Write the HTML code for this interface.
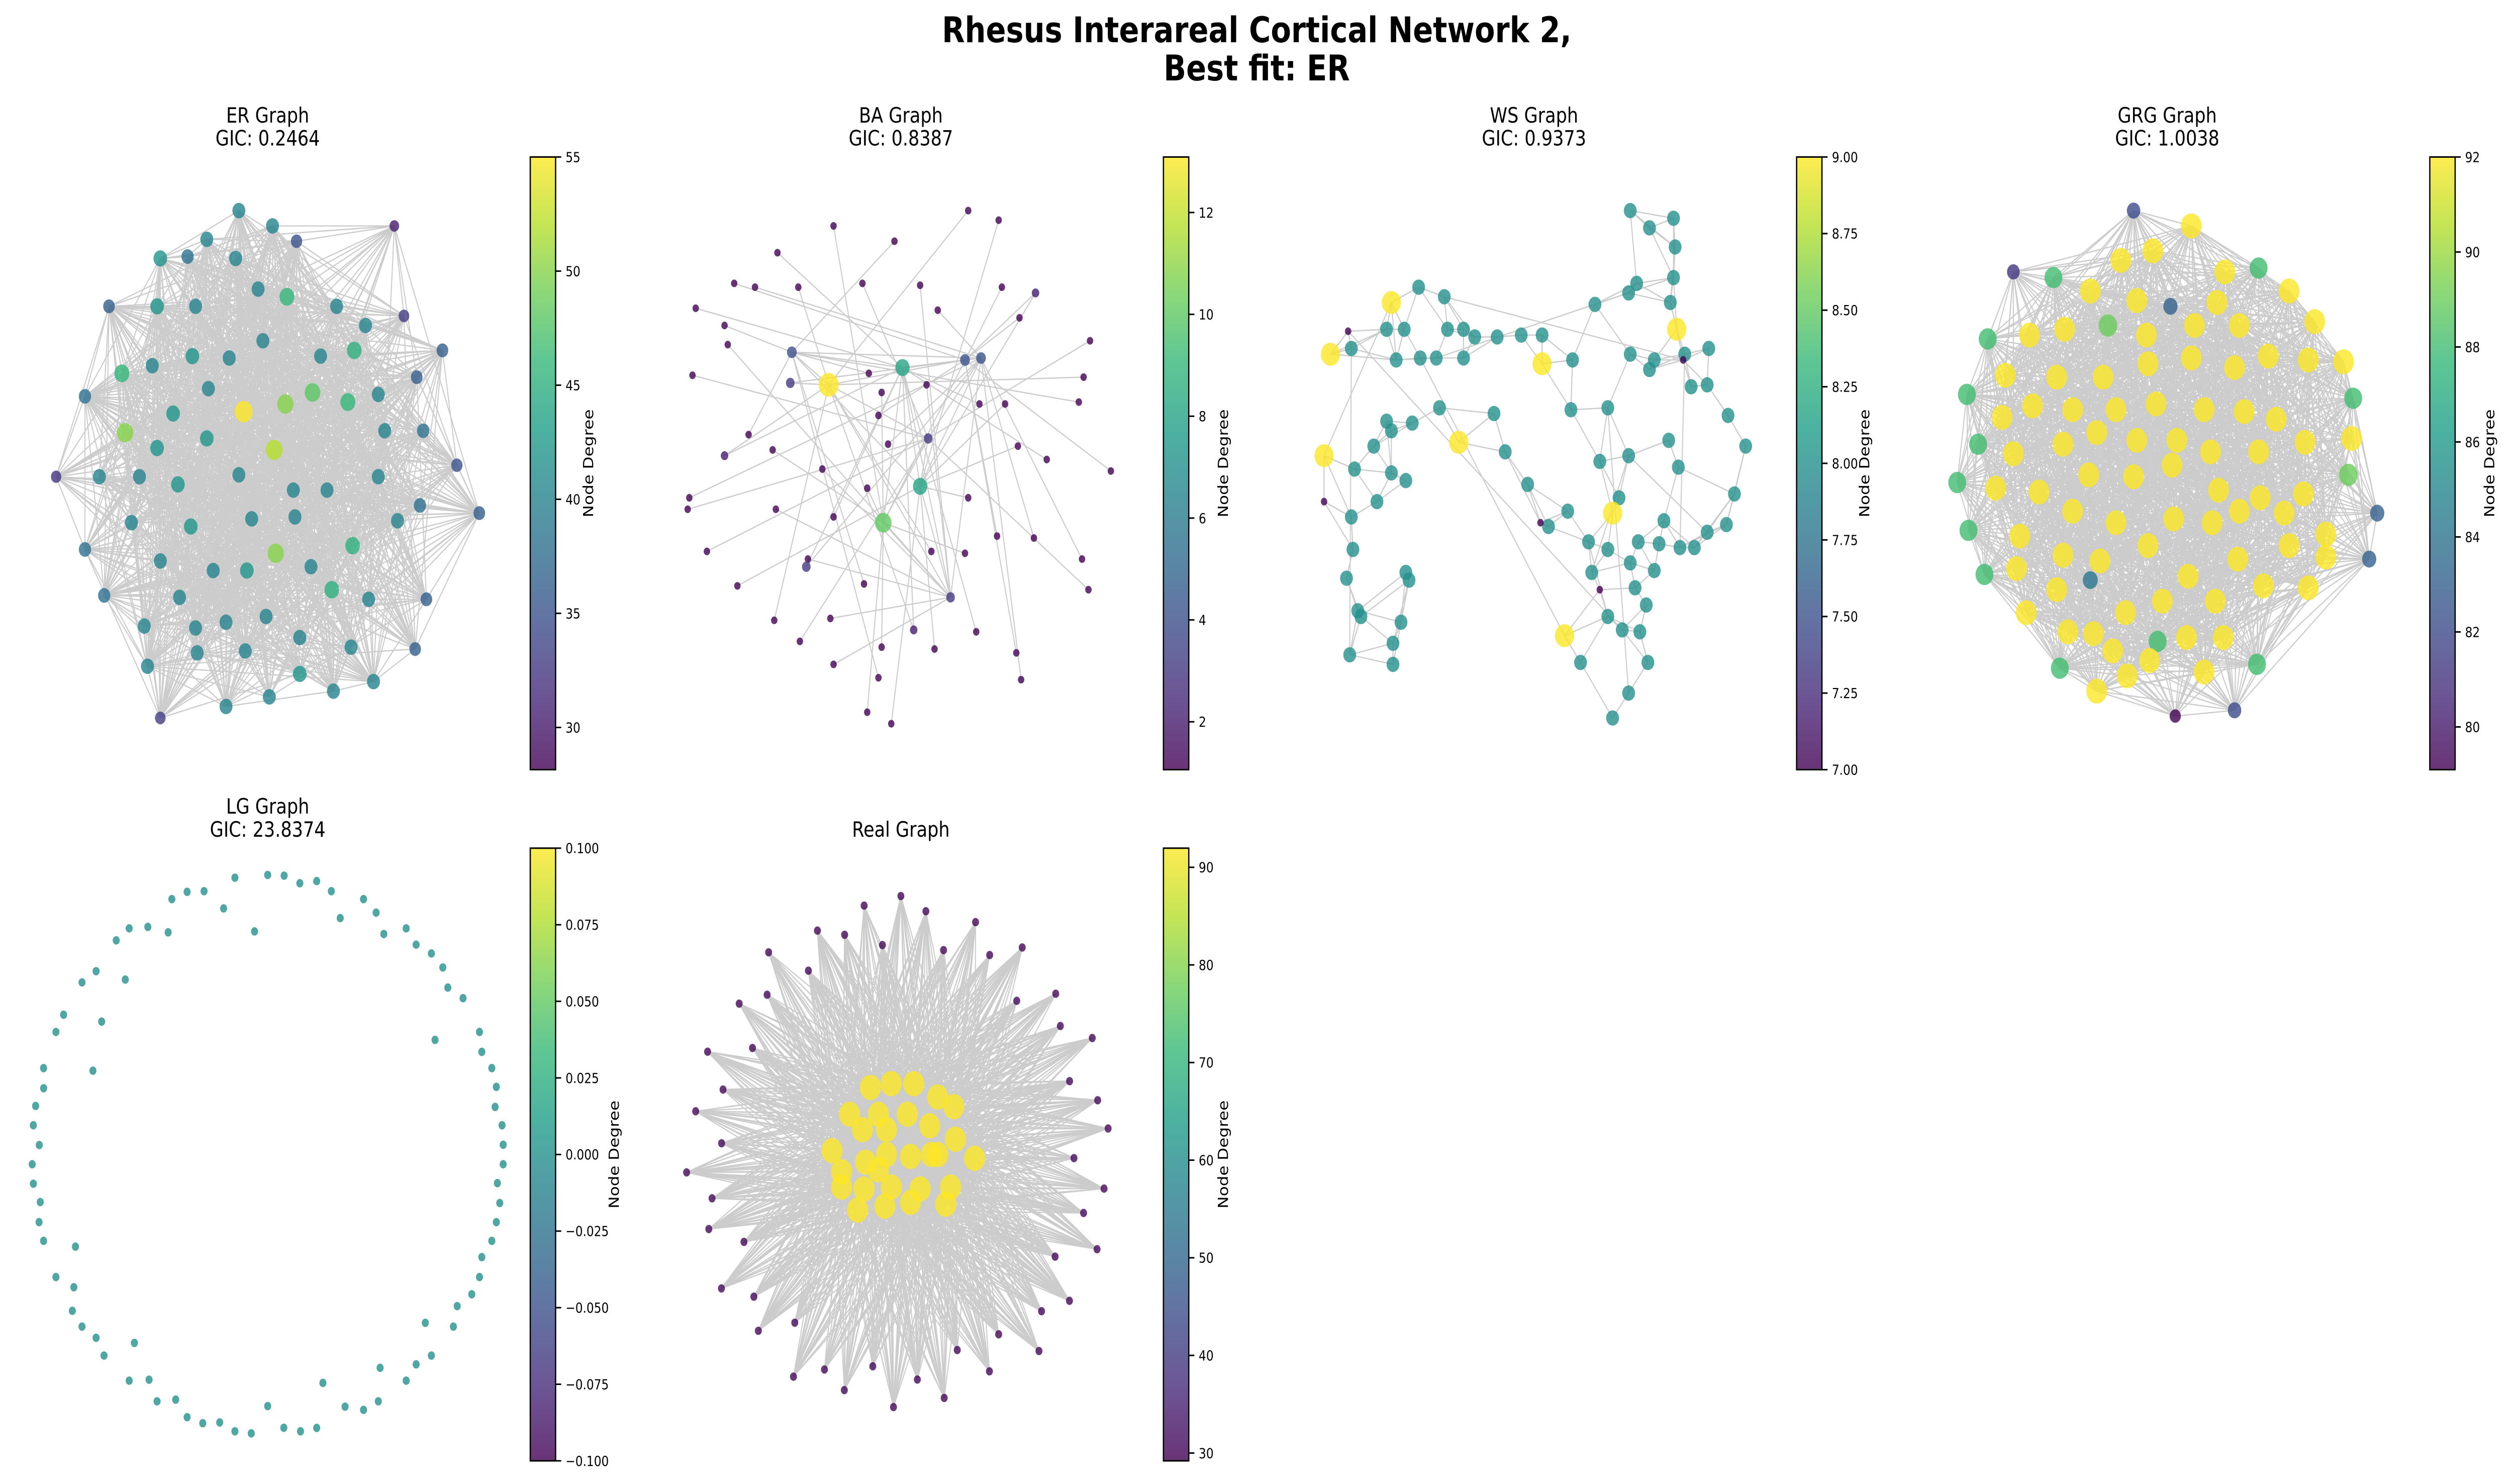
<!DOCTYPE html>
<html><head><meta charset="utf-8"><style>
html,body{margin:0;padding:0;background:#fff;width:100vw;height:100vh;overflow:hidden;}
svg{display:block;width:100vw;height:100vh;font-family:"DejaVu Sans","Liberation Sans",sans-serif;overflow:hidden;}
</style></head><body>
<svg id="fig" viewBox="0 0 1567.7 775.1" preserveAspectRatio="none" xmlns="http://www.w3.org/2000/svg">
<defs>
<linearGradient id="vir" x1="0" y1="1" x2="0" y2="0">
<stop offset="0" stop-color="#440154"/><stop offset="0.111" stop-color="#482878"/><stop offset="0.222" stop-color="#3e4989"/><stop offset="0.333" stop-color="#31688e"/><stop offset="0.444" stop-color="#26828e"/><stop offset="0.555" stop-color="#1f9e89"/><stop offset="0.666" stop-color="#35b779"/><stop offset="0.777" stop-color="#6ece58"/><stop offset="0.888" stop-color="#b5de2b"/><stop offset="1" stop-color="#fde725"/>
</linearGradient>
</defs>
<text x="784" y="22" text-anchor="middle" font-size="18.5" font-weight="bold">Rhesus Interareal Cortical Network 2,</text>
<text x="784" y="42" text-anchor="middle" font-size="18.5" font-weight="bold">Best fit: ER</text>
<g id="edges"></g><g id="nodes"></g><g id="cbars"></g><g id="titles"></g>
</svg>
<script>
const erPos=[[149,110],[170,118],[129,125],[117,134],[100,135],[147,135],[185,126],[246,118],[68,160],[98,160],[122,160],[161,151],[179,155],[210,160],[252,165],[228,170],[276,183],[53,207],[76,195],[95,191],[120,186],[143,187],[164,178],[200,186],[221,183],[260,197],[236,206],[108,216],[130,203],[152,215],[178,211],[195,205],[217,210],[264,225],[78,226],[98,234],[129,229],[171,235],[240,225],[35,249],[62,249],[87,249],[111,253],[149,248],[183,256],[204,256],[236,249],[285,243],[299,268],[53,287],[82,273],[119,275],[157,271],[184,270],[220,285],[248,272],[262,264],[100,293],[133,298],[154,298],[172,289],[194,296],[207,308],[230,313],[112,312],[65,311],[90,327],[122,328],[141,325],[166,322],[187,333],[266,313],[92,348],[123,341],[153,340],[219,338],[233,356],[259,339],[100,375],[141,369],[168,364],[208,361],[187,352]];
const erDeg=[40,40,40,38,42,40,35,30,36,42,40,40,46,40,33,40,36,38,46,40,42,40,40,40,45,36,40,42,40,55,50,48,46,38,50,42,42,52,40,32,40,40,42,40,40,40,40,35,36,38,40,42,40,40,45,40,38,40,40,42,50,40,45,40,40,38,40,40,40,40,40,36,40,40,40,40,40,36,33,40,40,40,42];
const baPos=[[604,110],[520,118],[623,115],[485,132],[558,126],[458,148],[471,150],[538,148],[574,149],[498,150],[625,150],[646,153],[434,161],[452,170],[636,166],[585,162],[680,178],[454,180],[494,184],[563,192],[602,188],[612,187],[542,195],[517,201],[493,200],[432,196],[578,201],[676,197],[550,205],[627,211],[611,211],[467,227],[548,217],[554,232],[579,229],[513,245],[452,238],[482,235],[635,233],[653,240],[673,210],[693,246],[430,260],[429,266],[484,266],[574,254],[541,255],[604,260],[520,270],[551,273],[622,280],[645,281],[441,288],[504,292],[581,288],[602,289],[460,306],[503,296],[539,305],[593,312],[675,292],[679,308],[518,323],[570,329],[550,338],[583,339],[609,330],[548,354],[634,341],[637,355],[499,335],[520,347],[483,324],[541,372],[556,378]];
const baDeg=[1,1,1,1,1,1,1,1,1,1,1,2,1,1,1,1,1,1,4,8,4,4,1,13,3,1,1,1,1,1,1,1,1,1,3,1,2,1,1,1,1,1,1,1,1,8,1,1,1,10,1,1,1,1,1,1,1,3,1,3,1,1,1,2,1,1,1,1,1,1,1,1,1,1,1];
const baHubs=[23,49,45,19,18,20,21,34,59];
const wsPos=[[1017,110],[1044,114],[1029,119],[1045,129],[1021,148],[1016,153],[1044,145],[1042,158],[995,159],[868,158],[885,150],[901,155],[830,185],[843,182],[865,172],[876,172],[903,172],[913,172],[920,176],[934,176],[949,175],[962,175],[962,190],[981,188],[1046,172],[1066,182],[1017,185],[1029,193],[871,188],[886,187],[896,187],[913,187],[1032,188],[1051,185],[1055,202],[1065,201],[1078,217],[1089,233],[1003,213],[980,214],[932,216],[898,213],[881,221],[865,220],[868,225],[857,233],[910,231],[939,236],[826,238],[845,245],[868,247],[877,251],[953,253],[998,241],[1016,238],[1041,230],[1047,244],[1082,258],[1077,274],[1065,278],[1038,272],[1035,284],[1022,283],[1010,260],[1006,268],[978,267],[966,275],[991,283],[1003,287],[993,299],[1017,294],[1032,298],[1048,286],[1057,286],[1020,307],[1027,316],[1003,322],[1012,329],[1023,330],[1028,346],[1016,362],[1006,375],[986,346],[976,332],[843,270],[859,262],[844,287],[840,302],[877,299],[879,303],[847,319],[849,322],[874,325],[842,342],[869,336],[869,347],[826,262],[841,173],[1050,188],[998,308],[961,273]];
const wsDeg=[8,8,8,8,8,8,8,8,8,9,8,8,9,8,8,8,8,8,8,8,8,8,9,8,9,8,8,8,8,8,8,8,8,8,8,8,8,8,8,8,8,8,8,8,8,8,9,8,9,8,8,8,8,8,8,8,8,8,8,8,8,8,8,8,9,8,8,8,8,8,8,8,8,8,8,8,8,8,8,8,8,8,8,9,8,8,8,8,8,8,8,8,8,8,8,8,7,7,7,7,7];
const grgPos=[[1331,110],[1367,118],[1343,131],[1323,136],[1388,142],[1409,140],[1256,142],[1281,145],[1304,152],[1333,157],[1354,160],[1383,158],[1428,152],[1288,172],[1315,170],[1339,175],[1369,170],[1397,170],[1444,168],[1240,177],[1266,175],[1415,186],[1462,189],[1251,196],[1283,197],[1312,197],[1340,190],[1367,187],[1394,192],[1440,188],[1227,206],[1249,218],[1268,212],[1293,214],[1320,214],[1345,211],[1375,214],[1400,215],[1420,219],[1468,208],[1234,232],[1256,237],[1287,232],[1308,226],[1333,230],[1358,230],[1379,236],[1409,236],[1438,231],[1467,229],[1221,252],[1245,255],[1272,257],[1303,248],[1331,249],[1355,243],[1384,256],[1410,260],[1437,258],[1465,248],[1228,277],[1260,280],[1293,267],[1320,273],[1356,271],[1380,273],[1397,267],[1425,268],[1451,279],[1483,268],[1238,300],[1258,297],[1287,290],[1310,293],[1340,285],[1365,301],[1396,292],[1428,285],[1451,291],[1478,292],[1264,320],[1283,308],[1304,303],[1326,320],[1349,314],[1382,314],[1412,306],[1440,307],[1290,330],[1306,331],[1346,335],[1364,333],[1387,333],[1318,340],[1285,349],[1308,361],[1327,353],[1341,345],[1375,351],[1408,347],[1357,374],[1394,371]];
const grgDeg=[82,92,92,92,92,88,81,88,92,92,83,92,92,92,89,92,92,92,92,88,92,92,92,92,92,92,92,92,92,92,88,92,92,92,92,92,92,92,92,88,88,92,92,92,92,92,92,92,92,92,88,92,92,92,92,92,92,92,92,89,88,92,92,92,92,92,92,92,92,83,88,92,92,92,92,92,92,92,92,83,92,92,84,92,92,92,92,92,92,92,88,92,92,92,88,92,92,92,92,88,79,82];
const lgCenter=[167,603];
const lgAngle=[90,86,82,78,74,70,66,62,58,54,50,46,42,38,34,30,26,22,18,14,10,6,2,-2,-6,-10,-14,-18,-22,-26,-30,-34,-38,-42,-46,-50,-54,-58,-62,-66,-70,-74,-78,-82,-86,-90,-94,-98,-102,-106,-110,-114,-118,-122,-126,-130,-134,-138,-142,-146,-150,-154,-158,-162,-166,-170,-174,-178,178,174,170,166,162,158,154,150,146,142,138,134,130,126,122,118,114,110,106,102,98,94];
const lgRadius=[1,1,0.98,1,0.98,0.9,1,0.98,0.93,1,0.98,1,1,0.97,1,0.82,1,0.98,1,1,0.98,1,1,1,0.98,1,1,1,0.98,1,1,0.97,1,0.9,1,0.98,1,0.9,1,1,0.96,0.85,1,1,0.98,0.9,1,1,0.98,1,1,0.96,1,0.95,1,0.88,1,0.98,1,1,0.95,1,0.88,1,1,0.98,1,1,0.97,1,1,0.98,1,0.8,1,1,0.85,1,0.98,0.87,1,1,0.96,0.9,1,1,0.98,0.9,1,0.8];
const lgDeg=lgAngle.map(()=>0);
const realCore=[[543,568],[556,566],[570,566],[585,573],[530,582],[548,582],[566,582],[580,588],[595,578],[519,601],[538,590],[553,590],[568,604],[585,603],[608,605],[525,612],[540,607],[553,603],[581,603],[596,595],[539,621],[556,620],[574,621],[593,620],[535,632],[552,630],[568,628],[590,629],[525,620],[548,611]];
const realOuterAngle=[90,83,76,69,62,55,48,41,34,27,20,13,6,-1,-8,-15,-22,-29,-36,-43,-50,-57,-64,-71,-78,-85,-92,-99,-106,-113,-120,-127,-134,-141,-148,-155,-162,-169,-176,177,170,163,156,149,142,135,128,121,114,107,100,96];
const realOuterRadius=[135,128,110,130,118,132,108,128,120,134,112,126,130,108,128,118,132,110,130,120,134,112,126,108,130,118,132,112,128,122,134,110,128,118,132,108,126,120,134,112,130,116,132,108,128,118,134,112,128,120,132,110];
const realCoreDeg=realCore.map(()=>92);
const realOuterDeg=realOuterAngle.map(()=>30);

const NS='http://www.w3.org/2000/svg';
const gE=document.getElementById('edges'),gN=document.getElementById('nodes'),gC=document.getElementById('cbars'),gT=document.getElementById('titles');
const vir=['#440154','#482878','#3e4989','#31688e','#26828e','#1f9e89','#35b779','#6ece58','#b5de2b','#fde725'];
function hex(c){return [parseInt(c.slice(1,3),16),parseInt(c.slice(3,5),16),parseInt(c.slice(5,7),16)];}
function viridis(t){t=Math.max(0,Math.min(1,t));const f=t*9,i=Math.min(8,Math.floor(f)),u=f-i;const a=hex(vir[i]),b=hex(vir[i+1]);return 'rgb('+a.map((v,k)=>Math.round(v+(b[k]-v)*u)).join(',')+')';}
function hsh(i,j){let h=(i*374761393+j*668265263)>>>0;h=((h^(h>>>13))*1274126177)>>>0;return (h%10000)/10000;}
function line(p,q,name){const l=document.createElementNS(NS,'line');l.setAttribute('x1',p[0]);l.setAttribute('y1',p[1]);l.setAttribute('x2',q[0]);l.setAttribute('y2',q[1]);l.setAttribute('stroke','#cccccc');l.setAttribute('stroke-width','0.65');


gE.appendChild(l);}
function nodes(pos,deg,vmin,vmax,rmin,rmax,name){pos.forEach((p,i)=>{const t=(deg[i]-vmin)/(vmax-vmin);const c=document.createElementNS(NS,'circle');c.setAttribute('cx',p[0]);c.setAttribute('cy',p[1]);c.setAttribute('r',rmin+(rmax-rmin)*Math.max(0,Math.min(1,t)));c.setAttribute('fill',viridis(t));c.setAttribute('fill-opacity','0.8');


gN.appendChild(c);});}
function txt(x,y,s,size,anchor,name,rot){const t=document.createElementNS(NS,'text');t.setAttribute('x',x);t.setAttribute('y',y);t.setAttribute('font-size',size);t.setAttribute('text-anchor',anchor);if(rot)t.setAttribute('transform','rotate(-90 '+x+' '+y+')');t.textContent=s;


gT.appendChild(t);}
function cbar(x,y0,y1,vmin,vmax,ticks,fmt,labelX,name){const r=document.createElementNS(NS,'rect');r.setAttribute('x',x);r.setAttribute('y',y0);r.setAttribute('width',15.8);r.setAttribute('height',y1-y0);r.setAttribute('fill','url(#vir)');r.setAttribute('fill-opacity','0.8');r.setAttribute('stroke','#000');r.setAttribute('stroke-width','0.8');


gC.appendChild(r);
ticks.forEach(v=>{const y=y1-(v-vmin)/(vmax-vmin)*(y1-y0);const l=document.createElementNS(NS,'line');l.setAttribute('x1',x+15.8);l.setAttribute('x2',x+19.3);l.setAttribute('y1',y);l.setAttribute('y2',y);l.setAttribute('stroke','#000');l.setAttribute('stroke-width','0.8');


gC.appendChild(l);txt(x+22,y+2.6,fmt(v),7.3,'start','colorbar-tick-label');});
txt(labelX,(y0+y1)/2,'Node Degree',8.6,'middle','colorbar-label',true);}

for(let i=0;i<erPos.length;i++)for(let j=i+1;j<erPos.length;j++){if(hsh(i,j)<0.85*(erDeg[i]+erDeg[j])/(2*erPos.length))line(erPos[i],erPos[j],'er-edge');}
baPos.forEach((p,i)=>{if(baHubs.indexOf(i)>=0)return;const h=baHubs[i%baHubs.length];line(p,baPos[h],'ba-edge');if(baDeg[i]>1)line(p,baPos[baHubs[(i+3)%baHubs.length]],'ba-edge');});
for(let a=0;a<baHubs.length;a++)for(let b=a+1;b<baHubs.length;b++)if(hsh(a,b)<0.5)line(baPos[baHubs[a]],baPos[baHubs[b]],'ba-edge');
wsPos.forEach((p,i)=>{const d=wsPos.map((q,j)=>[j,(q[0]-p[0])**2+(q[1]-p[1])**2]).filter(e=>e[0]!==i).sort((a,b)=>a[1]-b[1]);for(let k=0;k<4;k++)if(d[k][0]>i||k<2)line(p,wsPos[d[k][0]],'ws-edge');if(hsh(i,7)<0.12)line(p,wsPos[Math.floor(hsh(i,11)*wsPos.length)],'ws-edge');});
for(let i=0;i<grgPos.length;i++)for(let j=i+1;j<grgPos.length;j++){const d=Math.hypot(grgPos[i][0]-grgPos[j][0],grgPos[i][1]-grgPos[j][1]);if(d<125&&hsh(i,j)<0.85)line(grgPos[i],grgPos[j],'grg-edge');}
const realCenter=[562,603];
const realOuter=realOuterAngle.map((a,i)=>[realCenter[0]+realOuterRadius[i]*Math.cos(a*Math.PI/180),realCenter[1]-realOuterRadius[i]*Math.sin(a*Math.PI/180)]);
realOuter.forEach((p,i)=>realCore.forEach((q,j)=>{if(hsh(i,j+50)<0.8)line(p,q,'real-edge');}));
for(let i=0;i<realCore.length;i++)for(let j=i+1;j<realCore.length;j++)line(realCore[i],realCore[j],'real-edge');
const lgPos=lgAngle.map((a,i)=>[lgCenter[0]+147*lgRadius[i]*Math.cos(a*Math.PI/180),lgCenter[1]-146*lgRadius[i]*Math.sin(a*Math.PI/180)]);

nodes(erPos,erDeg,28,55,2.8,5.6,'er-node');
nodes(baPos,baDeg,1,13,2,6.2,'ba-node');
nodes(wsPos,wsDeg,7,9,2,6,'ws-node');
nodes(grgPos,grgDeg,79,92,3.5,6.5,'grg-node');
nodes(lgPos,lgDeg,-0.1,0.1,2.2,2.2,'lg-node');
nodes(realOuter,realOuterDeg,29,92,2.1,6.6,'real-node');
nodes(realCore,realCoreDeg,29,92,2.1,6.6,'real-node');

const i0=v=>String(v), f2=v=>v.toFixed(2), f3=v=>(v<0?'\u2212':'')+Math.abs(v).toFixed(3);
cbar(330.8,82,402,28.15,55,[30,35,40,45,50,55],i0,370,'er-colorbar');
cbar(725.8,82,402,1.06,13.09,[2,4,6,8,10,12],i0,766,'ba-colorbar');
cbar(1120.8,82,402,7,9,[7,7.25,7.5,7.75,8,8.25,8.5,8.75,9],f2,1166,'ws-colorbar');
cbar(1515.8,82,402,79.1,92,[80,82,84,86,88,90,92],i0,1556,'grg-colorbar');
cbar(330.8,443,763,-0.1,0.1,[-0.1,-0.075,-0.05,-0.025,0,0.025,0.05,0.075,0.1],f3,386,'lg-colorbar');
cbar(725.8,443,763,29.2,91.96,[30,40,50,60,70,80,90],i0,766,'real-colorbar');

txt(167,64,'ER Graph',11,'middle','er-title');txt(167,76,'GIC: 0.2464',11,'middle','er-gic');
txt(562,64,'BA Graph',11,'middle','ba-title');txt(562,76,'GIC: 0.8387',11,'middle','ba-gic');
txt(957,64,'WS Graph',11,'middle','ws-title');txt(957,76,'GIC: 0.9373',11,'middle','ws-gic');
txt(1352,64,'GRG Graph',11,'middle','grg-title');txt(1352,76,'GIC: 1.0038',11,'middle','grg-gic');
txt(167,425,'LG Graph',11,'middle','lg-title');txt(167,437,'GIC: 23.8374',11,'middle','lg-gic');
txt(562,437,'Real Graph',11,'middle','real-title');
</script>
</body></html>
